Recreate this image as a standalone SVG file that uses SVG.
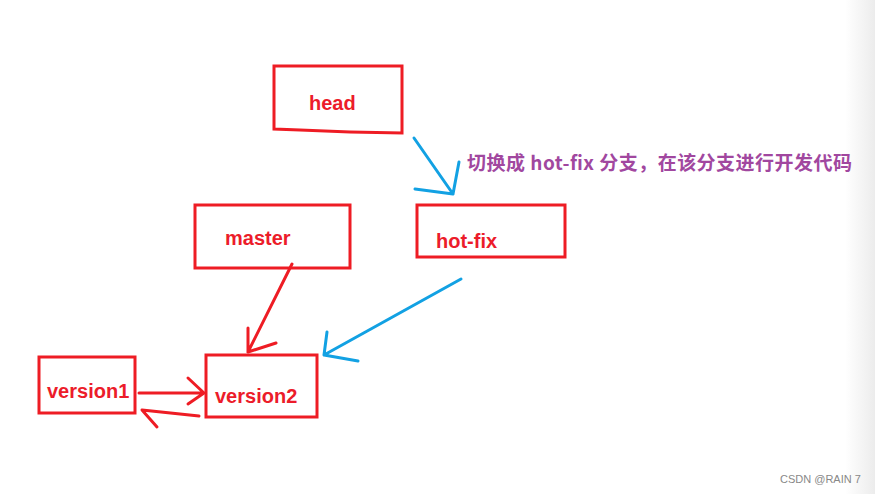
<svg xmlns="http://www.w3.org/2000/svg" width="875" height="494" viewBox="0 0 875 494">
<defs>
<linearGradient id="edge" x1="0" y1="0" x2="1" y2="0">
<stop offset="0" stop-color="#ffffff"/>
<stop offset="1" stop-color="#ececec"/>
</linearGradient>
<style>
.box{fill:none;stroke:#ee1c24;stroke-width:3}
.lbl{font-family:"Liberation Sans","Noto Sans",Arial,sans-serif;font-weight:bold;font-size:20px;fill:#ec1c2a}
.red{fill:none;stroke:#ee1c24;stroke-width:3;stroke-linecap:round;stroke-linejoin:round}
.blue{fill:none;stroke:#12a1e3;stroke-width:3;stroke-linecap:round;stroke-linejoin:round}
.note{font-family:"Noto Sans CJK SC","Liberation Sans",sans-serif;font-weight:bold;font-size:19px;fill:#a1479f}
.wm{font-family:"Liberation Sans",Arial,sans-serif;font-size:11px;fill:#888}
</style>
</defs>
<rect width="875" height="494" fill="#ffffff"/>
<rect x="845" y="0" width="30" height="494" fill="url(#edge)"/>
<g id="head">
<path class="box" d="M274,66 L402,66 L402,133 L350,132 L300,130 L274,129 Z"/>
<text class="lbl" x="309" y="110">head</text>
</g>
<g id="hot-fix">
<rect class="box" x="417" y="205" width="148" height="52"/>
<text class="lbl" x="436" y="248">hot-fix</text>
</g>
<g id="master">
<rect class="box" x="195" y="205" width="155" height="63"/>
<text class="lbl" x="225" y="245">master</text>
</g>
<g id="version1">
<rect class="box" x="39" y="357" width="96" height="56"/>
<text class="lbl" x="47" y="398">version1</text>
</g>
<g id="version2">
<rect class="box" x="206" y="355" width="111" height="62"/>
<text class="lbl" x="215" y="403">version2</text>
</g>
<g id="note">
<text class="note" x="467" y="170" textLength="385" lengthAdjust="spacing">切换成 hot-fix 分支，在该分支进行开发代码</text>
</g>
<g id="connectors">
<path class="blue" d="M414,138 L453,194 M459,162 L453,194 L415,189"/>
<path class="red" d="M292,264 L248,352 M248,328 L248,352 L276,343"/>
<path class="blue" d="M461,279 L324,355 M327,332 L324,355 L358,361"/>
<path class="red" d="M139,393 L204,393 M188,378 L204,393 L188,404"/>
<path class="red" d="M199,416 L142,410 L157,427"/>
</g>
<text class="wm" x="780" y="483">CSDN @RAIN 7</text>
</svg>
